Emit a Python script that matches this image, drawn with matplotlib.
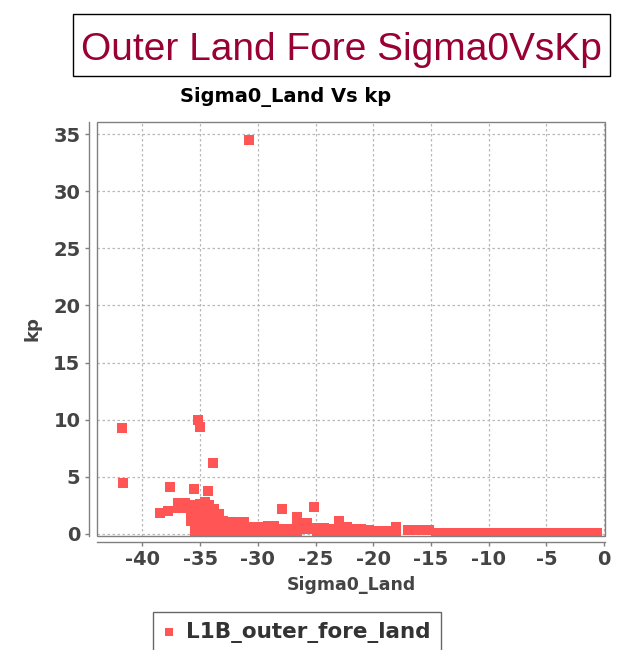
import matplotlib
matplotlib.use("Agg")
import matplotlib.pyplot as plt
from matplotlib.patches import Rectangle

W, H = 625, 650

# ---- data ----
iso_sigma0 = [-30.8, -41.8, -41.7, -35.2, -35.0, -33.9, -37.6, -35.5, -34.3,
              -38.5, -37.8, -27.9, -25.1]
iso_kp = [34.5, 9.3, 4.4, 9.95, 9.35, 6.2, 4.05, 3.9, 3.7,
          1.85, 2.0, 2.2, 2.3]

cluster_sigma0 = [-36.9, -36.3, -36.9, -36.3,
                  -35.8, -35.8, -35.8, -35.8,
                  -35.4, -35.4, -35.4, -35.4, -35.4, -35.4,
                  -35.0, -35.0, -35.0, -35.0, -35.0, -35.0,
                  -34.6, -34.6, -34.6, -34.6, -34.6, -34.6,
                  -34.2, -34.2, -34.2, -34.2, -34.2, -34.2,
                  -33.8, -33.8, -33.8, -33.8, -33.8,
                  -33.4, -33.4, -33.4, -33.4,
                  -33.0, -33.0, -33.0,
                  -32.5, -32.5, -32.5]
cluster_kp = [2.7, 2.7, 2.25, 2.25,
              2.5, 2.0, 1.5, 1.1,
              2.5, 2.0, 1.5, 1.0, 0.5, 0.2,
              2.6, 2.1, 1.6, 1.1, 0.6, 0.2,
              2.8, 2.3, 1.8, 1.3, 0.8, 0.3,
              2.5, 2.0, 1.5, 1.0, 0.5, 0.1,
              2.2, 1.7, 1.2, 0.7, 0.2,
              1.7, 1.2, 0.7, 0.2,
              1.1, 0.6, 0.1,
              1.0, 0.5, 0.1]

band_sigma0 = [-32.0, -32.0, -32.0, -31.2, -31.2, -31.2, -30.4, -30.4,
               -29.9, -29.9, -29.1, -29.1, -28.6, -28.6, -27.8, -27.8,
               -27.4, -27.4, -26.6, -26.6, -26.6, -26.6, -25.7, -25.7,
               -24.9, -24.9, -24.3, -24.3, -23.65, -23.65, -23.0, -23.0,
               -23.0, -22.25, -22.25, -21.4, -21.4, -21.1, -21.1, -20.35,
               -20.35, -19.6, -18.9, -18.0, -18.0, -17.0, -16.2, -16.0, -15.2]
band_kp = [1.0, 0.5, 0.1, 1.05, 0.55, 0.1, 0.55, 0.1,
           0.55, 0.1, 0.7, 0.25, 0.7, 0.25, 0.45, 0.1,
           0.45, 0.1, 1.5, 1.0, 0.5, 0.1, 0.9, 0.4,
           0.5, 0.1, 0.5, 0.1, 0.4, 0.1, 1.15, 0.65,
           0.15, 0.55, 0.1, 0.45, 0.1, 0.45, 0.1, 0.35,
           0.05, 0.2, 0.2, 0.6, 0.15, 0.35, 0.3, 0.3, 0.35]

tail_sigma0 = [-14.6, -13.9, -13.2, -12.5, -11.8, -11.1, -10.4, -9.7, -9.0,
               -8.3, -7.6, -6.9, -6.2, -5.5, -4.8, -4.1, -3.4, -2.7, -2.0,
               -1.3, -0.6]
tail_kp = [0.08, 0.08, 0.08, 0.08, 0.08, 0.08, 0.08, 0.08, 0.08,
           0.08, 0.08, 0.08, 0.08, 0.08, 0.08, 0.08, 0.08, 0.08, 0.08,
           0.06, 0.03]

x_ticks = [-40, -35, -30, -25, -20, -15, -10, -5, 0]
y_ticks = [0, 5, 10, 15, 20, 25, 30, 35]

series_name = "L1B_outer_fore_land"
sigma0 = iso_sigma0 + cluster_sigma0 + band_sigma0 + tail_sigma0
kp = iso_kp + cluster_kp + band_kp + tail_kp

# ---- figure ----
plt.rcParams['font.family'] = ['DejaVu Sans']
plt.rcParams['axes.unicode_minus'] = False
fig = plt.figure(figsize=(W / 100, H / 100), dpi=100)

left, right, top, bottom = 97, 605, 122, 536
ax = fig.add_axes([left / W, 1 - bottom / H, (right - left) / W, (bottom - top) / H])

ax.scatter(sigma0, kp, marker='s', s=52, color='#ff5555', linewidths=0,
           zorder=3, label=series_name)

ax.set_xlim(-43.93, 0.08)
ax.set_ylim(-0.2, 36.07)
ax.set_xticks(x_ticks)
ax.set_yticks(y_ticks)

ax.grid(True, color='#b8b8b8', linestyle=(0, (2, 2)), linewidth=0.9)
ax.set_axisbelow(True)

for s in ['top', 'right']:
    ax.spines[s].set_visible(False)
ax.spines['left'].set_position(('outward', 6))
ax.spines['bottom'].set_position(('outward', 4))
for s in ['left', 'bottom']:
    ax.spines[s].set_color('#808080')
    ax.spines[s].set_linewidth(1.0)

ax.add_patch(Rectangle((0, 0), 1, 1, transform=ax.transAxes, fill=False,
                       edgecolor='#808080', lw=1.0, zorder=5, clip_on=False))

ax.tick_params(direction='out', length=3, width=1, color='#808080',
               labelsize=14, labelcolor='#444444', pad=3)
for lab in ax.get_xticklabels() + ax.get_yticklabels():
    lab.set_fontweight('bold')

ax.set_xlabel('Sigma0_Land', fontsize=12.5, fontweight='bold',
              color='#444444', labelpad=5)
ax.set_ylabel('kp', fontsize=13, fontweight='bold', color='#444444',
              labelpad=8)

fig.text(286 / W, 1 - 97 / H, 'Sigma0_Land Vs kp', ha='center', va='center',
         fontsize=14, fontweight='bold', color='black')

fig.patches.append(Rectangle((73 / W, 1 - 76 / H), (610 - 73) / W, 62 / H,
                             transform=fig.transFigure, fill=False,
                             edgecolor='black', lw=1.0))
fig.text(341.5 / W, 1 - 60 / H, 'Outer Land Fore Sigma0VsKp',
         family=['Liberation Sans', 'DejaVu Sans'], fontsize=28,
         color='#990033', ha='center', va='baseline')

leg = ax.legend(loc='upper left', bbox_to_anchor=(153 / W, 1 - 612 / H),
                bbox_transform=fig.transFigure, frameon=True, fancybox=False,
                prop={'size': 15.5, 'weight': 'bold'}, handlelength=0.6,
                handletextpad=0.5, borderpad=0.45, borderaxespad=0,
                markerscale=0.85)
leg.get_frame().set_edgecolor('#404040')
leg.get_frame().set_linewidth(1.0)
for t in leg.get_texts():
    t.set_color('#333333')

fig.savefig('out.png', dpi=100)
